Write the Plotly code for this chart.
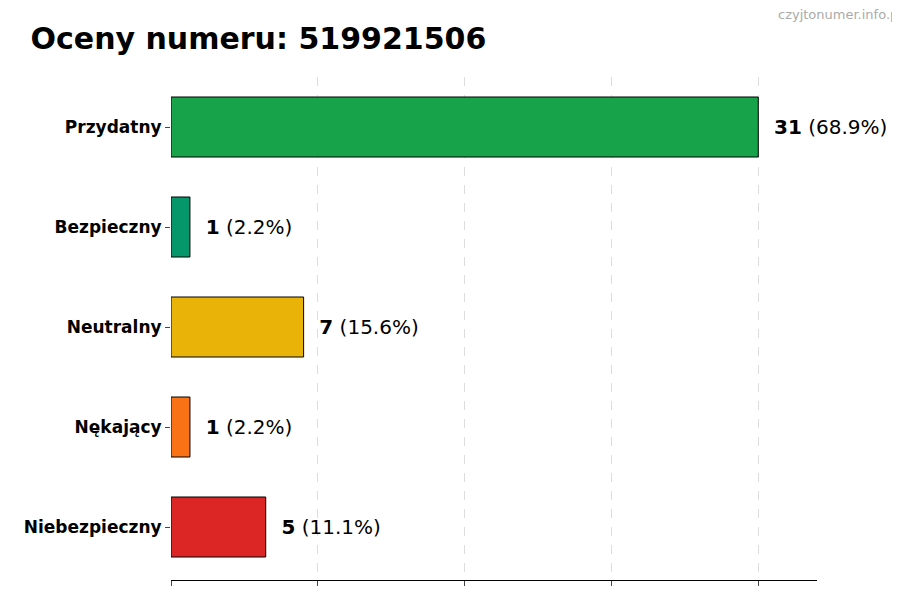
import plotly.graph_objects as go

categories = ["Przydatny", "Bezpieczny", "Neutralny", "Nękający", "Niebezpieczny"]
counts = [31, 1, 7, 1, 5]
colors = ["#16a34a", "#059669", "#eab308", "#f97316", "#dc2626"]

total = sum(counts)
mx = max(counts)
fig = go.Figure(go.Bar(
    y=categories, x=counts, orientation="h", width=0.6,
    marker=dict(color=colors, line=dict(color="black", width=1)),
    text=[f"  <b>{c}</b> ({c/total*100:.1f}%)" for c in counts],
    textposition="outside", textfont=dict(size=20, color="black", family="DejaVu Sans"),
    cliponaxis=False, hoverinfo="skip"))
fig.update_layout(
    width=900, height=600, plot_bgcolor="white", paper_bgcolor="white",
    margin=dict(l=163, r=91, t=69, b=28), showlegend=False,
    font=dict(family="DejaVu Sans", color="black"),
    title=dict(text="<b>Oceny numeru: 519921506</b>", x=0.025, xanchor="left",
               y=0.95, yanchor="middle", font=dict(size=30)),
    annotations=[dict(text="czyjtonumer.info.pl", xref="paper", yref="paper",
                      x=1.134, y=1.125, xanchor="right", yanchor="middle",
                      showarrow=False, font=dict(size=13, color="#aaaaaa"))],
)
fig.update_xaxes(range=[0, mx * 1.1], tickvals=[mx * i / 4 for i in range(5)],
                 showticklabels=False, ticks="outside", ticklen=5,
                 showgrid=True, gridcolor="#dddddd", griddash="dash", gridwidth=1,
                 showline=True, linecolor="black", zeroline=False)
fig.update_yaxes(autorange=False, range=[4.53, -0.5], ticks="outside", ticklen=5,
                 tickfont=dict(size=17), showline=False,
                 tickvals=categories, ticktext=[f"<b>{c}</b>" for c in categories])
fig.write_html("out.html")
